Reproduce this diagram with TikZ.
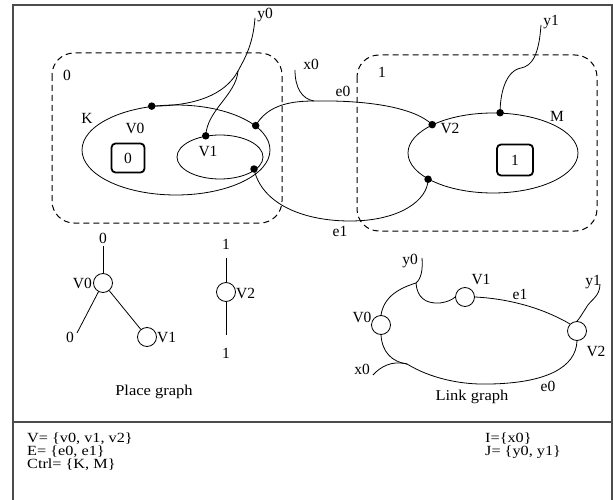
\documentclass[tikz,border=0pt]{standalone}
\usepackage{fontspec}
\setmainfont{Liberation Serif}
\newfontfamily\widefont{Liberation Serif}[FakeStretch=1.1]
\newfontfamily\infofont{Liberation Serif}[FakeStretch=1.16]
\usetikzlibrary{shapes.geometric}
\tikzset{
  lbl/.style={inner sep=0pt, font=\fontsize{15.5}{15.5}\selectfont},
  captxt/.style={inner sep=0pt, font=\widefont\fontsize{15}{15}\selectfont},
  info/.style={inner sep=0pt, anchor=north west, align=left, font=\infofont\fontsize{14}{12.8}\selectfont},
  dot/.style={circle, fill=black, inner sep=0pt, minimum size=7.5pt},
  vtx/.style={circle, draw, inner sep=0pt, minimum size=19pt, line width=0.8pt},
  ell/.style={ellipse, draw, inner sep=0pt, line width=0.8pt},
  region/.style={draw, dashed, dash pattern=on 6pt off 4pt, rounded corners=22pt, line width=1pt},
  rootbox/.style={draw, rounded corners=4pt, line width=1.8pt, inner sep=0pt},
  wire/.style={line width=0.8pt},
  frame/.style={draw, line width=1.1pt, draw=black!70}
}
\begin{document}
\begin{tikzpicture}[x=1pt, y=-1pt]
\useasboundingbox (0,0) rectangle (613,500);
% frame
\draw[frame] (13,501) -- (13,5) -- (612,5) -- (612,501);
\draw[frame] (13,422) -- (612,422);

% regions
\draw[region] (52,53) rectangle (282,223);
\draw[region] (357,55) rectangle (597,231);
\node[lbl] (r0) at (67,75) {0};
\node[lbl] (r1) at (382,72) {1};

% ellipses
\node[ell, minimum width=188pt, minimum height=90pt] (K) at (176,150) {};
\node[ell, minimum width=86pt, minimum height=44pt] (V1e) at (220,157) {};
\node[ell, minimum width=170pt, minimum height=80pt] (M) at (493,153) {};
\node[rootbox, minimum width=33pt, minimum height=29pt] (s0) at (128,158) {};
\node[rootbox, minimum width=36pt, minimum height=31pt] (s1) at (515,160) {};
\node[lbl] at (s0) {0};
\node[lbl] at (s1) {1};

\node[lbl] (lK) at (87,118) {K};
\node[lbl] (lV0) at (135,128) {V0};
\node[lbl] (lV1) at (208,152) {V1};
\node[lbl] (lM) at (557,116) {M};
\node[lbl] (lV2) at (450,128) {V2};

% ports
\node[dot] (p1) at (K.119) {};
\node[dot] (p2) at (V1e.124) {};
\node[dot] (p3) at (K.17) {};
\node[dot] (p4) at (254,169) {};
\node[dot] (p5) at (M.155) {};
\node[dot] (p6) at (M.80) {};
\node[dot] (p7) at (M.-158) {};

% outer names
\coordinate (y0t) at (255,18);
\coordinate (y0b) at (238,71);
\coordinate (x0t) at (295,70);
\coordinate (x0j) at (314,101);
\coordinate (y1t) at (541,25);
\node[lbl] (ly0) at (265,15) {y0};
\node[lbl] (lx0) at (311,64) {x0};
\node[lbl] (ly1) at (551,22) {y1};
\node[lbl] (le0) at (343,91) {e0};
\node[lbl] (le1) at (340,231) {e1};

\draw[wire] (y0t) .. controls (253,45) and (244.5,59) .. (y0b) .. controls (225,95) and (195,106) .. (p1.center);
\draw[wire] (y0b) .. controls (236,95) and (207,110) .. (p2.center);
\draw[wire] (p3.center) .. controls (268,104) and (293,101) .. (x0j) .. controls (370,100) and (415,108) .. (p5.center);
\draw[wire] (x0t) .. controls (295,88) and (302,99) .. (x0j);
\draw[wire] (p4.center) .. controls (262,205) and (305,221) .. (350,221) .. controls (400,221) and (428,200) .. (p7.center);
\draw[wire] (y1t) .. controls (539,55) and (532,66) .. (521,68) .. controls (505,71) and (500,95) .. (p6.center);

% place graph
\node[lbl] (pg0t) at (103,238) {0};
\node[vtx] (pV0) at (103,283) {};
\coordinate (pg0a) at (103,246);
\coordinate (pg0b) at (77,333);
\node[lbl] (pg0l) at (70,337) {0};
\node[vtx] (pV1) at (147,337) {};
\node[lbl, anchor=east] at (92,283) {V0};
\node[lbl, anchor=west] at (157,337) {V1};
\draw[wire] (pg0a) -- (pV0);
\draw[wire] (pV0) -- (pg0b);
\draw[wire] (pV0) -- (pV1);
\node[lbl] (pg1t) at (226,244) {1};
\node[vtx] (pV2) at (226,292) {};
\coordinate (pg1a) at (226,258);
\coordinate (pg1c) at (226,335);
\node[lbl] (pg1b) at (226,353) {1};
\node[lbl, anchor=west] at (236,293) {V2};
\draw[wire] (pg1a) -- (pV2);
\draw[wire] (pV2) -- (pg1c);
\node[captxt] at (154,392) {Place graph};

% link graph
\node[vtx] (lgV0) at (381,325) {};
\node[vtx] (lgV1) at (465,297) {};
\node[vtx] (lgV2) at (577,331) {};
\coordinate (lgy0t) at (422,258);
\coordinate (lgy0b) at (416,283);
\coordinate (lgy1t) at (600,284);
\coordinate (lgx0t) at (373,375);
\coordinate (lgx0j) at (407,364);
\node[lbl] at (410,261) {y0};
\node[lbl] at (481,279) {V1};
\node[lbl] at (520,294) {e1};
\node[lbl] at (593,282) {y1};
\node[lbl] at (362,317) {V0};
\node[lbl] at (596,351) {V2};
\node[lbl] at (362,369) {x0};
\node[lbl] at (548,386) {e0};
\node[captxt] at (472,397) {Link graph};

\draw[wire] (lgy0t) .. controls (423,270) and (421,279) .. (lgy0b) .. controls (400,288) and (384,296) .. (lgV0.north);
\draw[wire] (lgy0b) .. controls (417,297) and (425,304) .. (440,303) .. controls (447,302) and (452,300) .. (lgV1.west);
\draw[wire] (lgV1.east) .. controls (515,299) and (548,311) .. (lgV2.north west);
\draw[wire] (lgy1t) .. controls (600,297) and (590,300) .. (586,308) .. controls (582,314) and (580,318) .. (lgV2.north);
\draw[wire] (lgV0.south) .. controls (382,352) and (392,362) .. (lgx0j) .. controls (430,378) and (460,385) .. (490,384) .. controls (545,383) and (576,368) .. (lgV2.south);
\draw[wire] (lgx0t) .. controls (380,367) and (392,360) .. (lgx0j);

% summary
\node[info] (sumL) at (27,433) {V= \{v0, v1, v2\}\\E= \{e0, e1\}\\Ctrl= \{K, M\}};
\node[info] (sumR) at (485,433) {I=\{x0\}\\J= \{y0, y1\}};
\end{tikzpicture}
\end{document}
